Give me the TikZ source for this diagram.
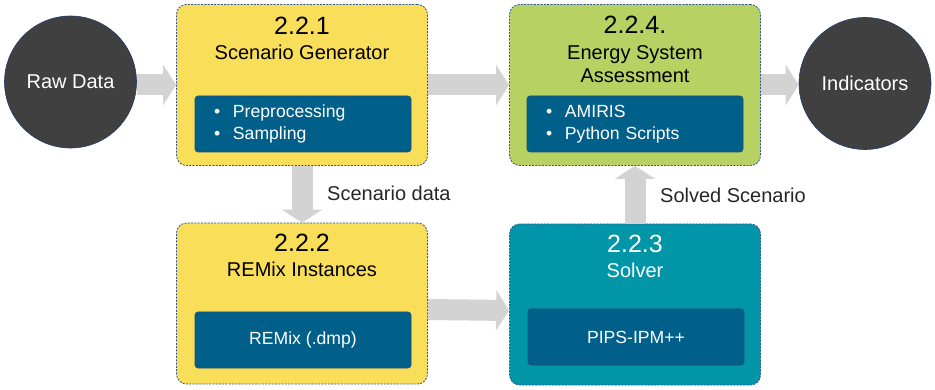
\documentclass[tikz,border=0pt]{standalone}
\usepackage{fontspec}
\setmainfont{Liberation Sans}
\usetikzlibrary{arrows.meta,calc}
\definecolor{cyell}{RGB}{249,222,89}
\definecolor{cgreen}{RGB}{183,210,98}
\definecolor{cteal}{RGB}{0,150,168}
\definecolor{cinner}{RGB}{0,96,138}
\definecolor{cinnerb}{RGB}{30,78,120}
\definecolor{cdash}{RGB}{46,85,151}
\definecolor{ccirc}{RGB}{64,64,64}
\definecolor{carrow}{RGB}{211,211,211}
\definecolor{clabel}{RGB}{38,38,38}
\tikzset{
  stage/.style={draw=cdash, line width=0.8pt, dash pattern=on 2pt off 1.3pt, rounded corners=10pt,
    minimum width=251pt, minimum height=161pt, inner sep=0pt},
  innerbox/.style={fill=cinner, draw=cinnerb, line width=0.6pt, rounded corners=3pt,
    minimum width=216pt, minimum height=56pt, text=white, font=\fontsize{17.6}{22}\selectfont, inner sep=0pt},
  listbox/.style={innerbox, text width=178pt, align=left},
  numtxt/.style={font=\fontsize{25}{29}\selectfont},
  nametxt/.style={font=\fontsize{20}{24}\selectfont, align=center},
  blob/.style={circle, fill=ccirc, draw=cdash!70!black, line width=0.6pt, minimum size=132pt, inner sep=0pt,
    text=white, font=\fontsize{20}{24}\selectfont},
  bigarrow/.style={draw=carrow, line width=21pt, -{Triangle[length=13pt,width=40pt]}},
  flowlabel/.style={anchor=west, text=clabel, font=\fontsize{20}{24}\selectfont, inner sep=0pt}
}
\newcommand{\bul}{\makebox[19pt][l]{\textbullet}}
\begin{document}
\begin{tikzpicture}[x=1pt,y=-1pt]
\useasboundingbox (0,0) rectangle (935,390);
% circles
\node[blob] (raw) at (70.5,82) {Raw Data};
\node[blob] (ind) at (865,83.5) {Indicators};
% stage boxes
\node[stage, fill=cyell] (gen) at (302,85) {};
\node[stage, fill=cgreen] (assess) at (635,85) {};
\node[stage, fill=cyell] (remix) at (302,303.5) {};
\node[stage, fill=cteal] (solver) at (635,304.5) {};
% titles
\node[numtxt] (gennum) at (302,26) {2.2.1};
\node[nametxt] (genname) at (302,52) {Scenario Generator};
\node[numtxt] (assnum) at (635,25) {2.2.4.};
\node[nametxt] (assname) at (635,64) {Energy System\\[-0.5pt]Assessment};
\node[numtxt] (remnum) at (302,243) {2.2.2};
\node[nametxt] (remname) at (302,269) {REMix Instances};
\node[numtxt, text=white] (solnum) at (635,244) {2.2.3};
\node[nametxt, text=white] (solname) at (635,270) {Solver};
% inner boxes
\node[listbox] (genin) at (303,124) {\bul Preprocessing\\\bul Sampling};
\node[listbox] (assin) at (635,124) {\bul AMIRIS\\\bul Python Scripts};
\node[innerbox] (remin) at (303,340) {REMix (.dmp)};
\node[innerbox] (solin) at (636,337) {PIPS-IPM++};
% arrows
\draw[bigarrow] (raw.east |- gen.west) -- (gen.west);
\draw[bigarrow] (gen.east) -- (assess.west);
\draw[bigarrow] (assess.east) -- (ind.west |- assess.east);
\draw[bigarrow] (gen.south) -- (remix.north);
\draw[bigarrow] ($(remix.east)+(0,6)$) -- ($(solver.west)+(0,6)$);
\draw[bigarrow] (solver.north) -- (assess.south);
% labels
\node[flowlabel] (lbl1) at (327,193) {Scenario data};
\node[flowlabel] (lbl2) at (660,195) {Solved Scenario};
\end{tikzpicture}
\end{document}
